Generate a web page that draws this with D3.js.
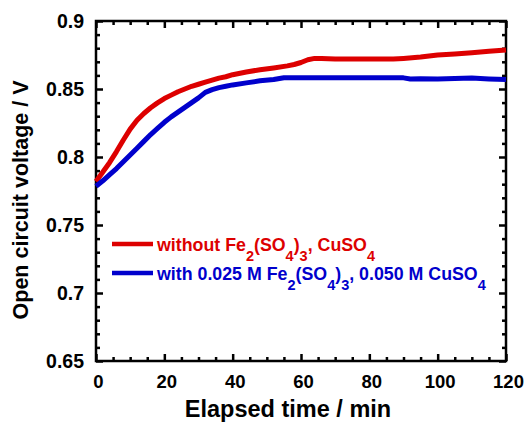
<!DOCTYPE html>
<html>
<head>
<meta charset="utf-8">
<script src="https://cdn.jsdelivr.net/npm/d3@7"></script>
<style>
    body { margin: 0; background: #fff; }
    text { font-family: "Liberation Sans", Arial, sans-serif; font-weight: bold; }
</style>
</head>
<body>
<svg width="528" height="423"></svg>
<script>
// elapsed time (min) and open circuit voltage (V)
var timeRed = [0, 2, 4, 6, 8, 10, 12, 14, 16, 18, 20, 22, 24, 26, 28, 30, 32, 34, 36, 38, 40, 44, 48, 52, 56, 58, 60, 62, 64, 66, 70, 80, 87, 90, 95, 100, 105, 110, 115, 120]
var voltRed = [0.782, 0.789, 0.796, 0.804, 0.8125, 0.8205, 0.827, 0.832, 0.8362, 0.8398, 0.843, 0.8455, 0.848, 0.850, 0.852, 0.8535, 0.855, 0.8565, 0.858, 0.859, 0.8605, 0.8625, 0.8642, 0.8655, 0.867, 0.868, 0.8695, 0.8715, 0.8725, 0.8725, 0.872, 0.872, 0.872, 0.8725, 0.8735, 0.875, 0.8758, 0.8767, 0.8778, 0.8787]

var timeBlue = [0, 2, 4, 6, 8, 10, 12, 14, 16, 18, 20, 22, 24, 26, 28, 30, 32, 34, 36, 38, 40, 44, 48, 52, 55, 60, 70, 80, 90, 92, 95, 100, 105, 110, 115, 120]
var voltBlue = [0.7785, 0.7825, 0.787, 0.7915, 0.7965, 0.8015, 0.8065, 0.8115, 0.8165, 0.821, 0.8255, 0.8295, 0.833, 0.8365, 0.840, 0.8435, 0.8475, 0.8495, 0.851, 0.852, 0.853, 0.8545, 0.856, 0.857, 0.8583, 0.8583, 0.8583, 0.8583, 0.8582, 0.8574, 0.8576, 0.8574, 0.8577, 0.858, 0.8574, 0.857]

var xTicks = [0, 20, 40, 60, 80, 100, 120]
var yTicks = [0.65, 0.7, 0.75, 0.8, 0.85, 0.9]
var yTickLabels = ["0.65", "0.7", "0.75", "0.8", "0.85", "0.9"]

var seriesNames = [
    [["without Fe", ""], ["2", "sub"], ["(SO", ""], ["4", "sub"], [")", ""], ["3", "sub"], [", CuSO", ""], ["4", "sub"]],
    [["with 0.025 M Fe", ""], ["2", "sub"], ["(SO", ""], ["4", "sub"], [")", ""], ["3", "sub"], [", 0.050 M CuSO", ""], ["4", "sub"]]
]
var colors = ["#dd0000", "#0000cc"]

var plotL = 96, plotR = 506, plotT = 21, plotB = 361

var svg = d3.select("svg")
var x = d3.scaleLinear().domain([0, 120]).range([plotL, plotR])
var y = d3.scaleLinear().domain([0.65, 0.9]).range([plotB, plotT])

var xMinor = d3.range(0, 121, 5).filter(d => d % 20 !== 0)
var yMinor = d3.range(65, 91, 1).map(d => d / 100).filter(d => Math.round(d * 100) % 5 !== 0)

function styleAxis(g) {
    g.select(".domain").remove()
    g.selectAll("line").attr("stroke", "#000").attr("stroke-width", 2.5)
}

// bottom
svg.append("g").attr("transform", `translate(0,${plotB})`)
    .call(d3.axisBottom(x).tickValues(xTicks).tickSize(-7).tickPadding(14).tickFormat(d3.format("d")))
    .call(styleAxis)
    .call(g => g.selectAll("text").attr("font-size", 18.5).attr("fill", "#000").attr("dx", 2))
svg.append("g").attr("transform", `translate(0,${plotB})`)
    .call(d3.axisBottom(x).tickValues(xMinor).tickSize(-4).tickFormat(""))
    .call(styleAxis)
// top
svg.append("g").attr("transform", `translate(0,${plotT})`)
    .call(d3.axisTop(x).tickValues(xTicks).tickSize(-7).tickFormat(""))
    .call(styleAxis)
svg.append("g").attr("transform", `translate(0,${plotT})`)
    .call(d3.axisTop(x).tickValues(xMinor).tickSize(-4).tickFormat(""))
    .call(styleAxis)
// left
svg.append("g").attr("transform", `translate(${plotL},0)`)
    .call(d3.axisLeft(y).tickValues(yTicks).tickSize(-7).tickPadding(12).tickFormat((d, i) => yTickLabels[i]))
    .call(styleAxis)
    .call(g => g.selectAll("text").attr("font-size", 19.5).attr("fill", "#000"))
svg.append("g").attr("transform", `translate(${plotL},0)`)
    .call(d3.axisLeft(y).tickValues(yMinor).tickSize(-4).tickFormat(""))
    .call(styleAxis)
// right
svg.append("g").attr("transform", `translate(${plotR},0)`)
    .call(d3.axisRight(y).tickValues(yTicks).tickSize(-7).tickFormat(""))
    .call(styleAxis)
svg.append("g").attr("transform", `translate(${plotR},0)`)
    .call(d3.axisRight(y).tickValues(yMinor).tickSize(-4).tickFormat(""))
    .call(styleAxis)

svg.append("rect")
    .attr("x", plotL).attr("y", plotT)
    .attr("width", plotR - plotL).attr("height", plotB - plotT)
    .attr("fill", "none").attr("stroke", "#000").attr("stroke-width", 2.5)

// data lines
var line = d3.line().x(d => x(d[0])).y(d => y(d[1]))
var series = [d3.zip(timeRed, voltRed), d3.zip(timeBlue, voltBlue)]
svg.selectAll(".series")
    .data(series)
    .enter()
    .append("path")
    .attr("class", "series")
    .attr("d", d => line(d))
    .attr("fill", "none")
    .attr("stroke", (d, i) => colors[i])
    .attr("stroke-width", 5)
    .attr("stroke-linejoin", "round")

// legend
seriesNames.forEach((parts, i) => {
    var ly = 244 + i * 29
    svg.append("line")
        .attr("x1", 112).attr("x2", 153).attr("y1", ly).attr("y2", ly)
        .attr("stroke", colors[i]).attr("stroke-width", 4.5)
    var t = svg.append("text")
        .attr("x", 157).attr("y", ly + 6.5)
        .attr("font-size", 17.8).attr("fill", colors[i])
    var shifted = false
    parts.forEach(p => {
        var dy = 0
        if (p[1] === "sub" && !shifted) { dy = 10; shifted = true }
        if (p[1] !== "sub" && shifted) { dy = -10; shifted = false }
        t.append("tspan")
            .attr("dy", dy)
            .attr("font-size", p[1] === "sub" ? 14.5 : 17.8)
            .text(p[0])
    })
})

// axis titles
svg.append("text")
    .attr("x", 288).attr("y", 417)
    .attr("text-anchor", "middle")
    .attr("font-size", 23.5)
    .text("Elapsed time / min")

svg.append("text")
    .attr("transform", "translate(28,200) rotate(-90)")
    .attr("text-anchor", "middle")
    .attr("font-size", 21.5)
    .text("Open circuit voltage / V")
</script>
</body>
</html>
